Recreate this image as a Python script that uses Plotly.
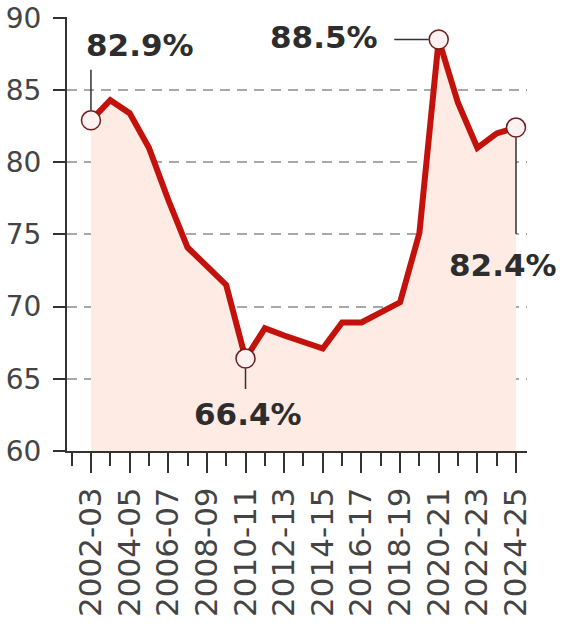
import plotly.graph_objects as go

seasons = ["2002-03", "2003-04", "2004-05", "2005-06", "2006-07", "2007-08", "2008-09",
           "2009-10", "2010-11", "2011-12", "2012-13", "2013-14", "2014-15", "2015-16",
           "2016-17", "2017-18", "2018-19", "2019-20", "2020-21", "2021-22", "2022-23",
           "2023-24", "2024-25"]
values = [82.9, 84.3, 83.4, 81.0, 77.4, 74.1, 72.8, 71.5, 66.4, 68.5, 68.0, 67.6, 67.1,
          68.9, 68.9, 69.6, 70.3, 75.1, 88.5, 84.1, 81.0, 82.0, 82.4]
highlight_idx = [0, 8, 18, 22]
y_ticks = [60, 65, 70, 75, 80, 85, 90]

xs = list(range(len(seasons)))
RED = "#c3120c"
FILL = "#fdebe4"
TXT = "#2d2d2d"

fig = go.Figure()
fig.add_trace(go.Scatter(x=xs, y=values, mode="lines", line=dict(width=0, color=FILL),
                         fill="tozeroy", fillcolor=FILL, hoverinfo="skip", showlegend=False))
fig.add_trace(go.Scatter(x=xs, y=values, mode="lines", line=dict(width=6, color=RED),
                         showlegend=False, cliponaxis=False))
fig.add_trace(go.Scatter(x=[xs[i] for i in highlight_idx], y=[values[i] for i in highlight_idx],
                         mode="markers", cliponaxis=False,
                         marker=dict(size=19, color="#fdf1f1", line=dict(width=1.5, color="#6e1c1c")),
                         showlegend=False))

# label placement: (xshift, yshift) for text, (ax, ay) for leader lines
label_cfg = {
    0: dict(xs=49, ys=75, ax=0, ay=-52),
    8: dict(xs=2, ys=-55, ax=0, ay=32),
    18: dict(xs=-115, ys=3, ax=-46, ay=0),
    22: dict(xs=-13, ys=-137, ax=0, ay=108),
}
for i, c in label_cfg.items():
    fig.add_annotation(x=xs[i], y=values[i], text="", showarrow=True, arrowhead=0,
                       arrowwidth=1.5, arrowcolor="#333333", ax=c["ax"], ay=c["ay"],
                       standoff=10)
    fig.add_annotation(x=xs[i], y=values[i], text=f"<b>{values[i]:.1f}%</b>", showarrow=False,
                       xshift=c["xs"], yshift=c["ys"],
                       font=dict(family="DejaVu Sans", size=31, color=TXT))

fig.update_layout(
    width=562, height=624,
    margin=dict(l=67, r=35, t=17, b=173, autoexpand=False),
    paper_bgcolor="white", plot_bgcolor="white",
    font=dict(family="DejaVu Sans", color="#444444"),
)
fig.update_xaxes(
    range=[-1.24, 22.57], tickvals=xs[::2], ticktext=seasons[::2], tickangle=-90,
    tickfont=dict(size=31, color="#444444"), ticks="outside", ticklen=20, tickwidth=2,
    tickcolor="#333333", showline=True, linecolor="#333333", linewidth=2,
    showgrid=False, zeroline=False, ticklabelstandoff=2, automargin=False,
    minor=dict(dtick=1, tick0=0, ticks="outside", ticklen=13, tickwidth=2, tickcolor="#333333",
               showgrid=False),
)
fig.update_yaxes(
    range=[60, 90.06], tickvals=y_ticks, tickfont=dict(size=28, color="#444444"),
    ticks="outside", ticklen=12, tickwidth=2, tickcolor="#333333",
    showline=True, linecolor="#333333", linewidth=2, zeroline=False,
    showgrid=True, gridcolor="#a8a8a8", gridwidth=1.5, griddash="10px,7px",
    ticklabelstandoff=6, automargin=False,
)

# remove the browser's default 8px page margin so the figure fills the window
fig.write_html("out.html", config={"displayModeBar": False},
               post_script="document.body.style.margin='0';")
